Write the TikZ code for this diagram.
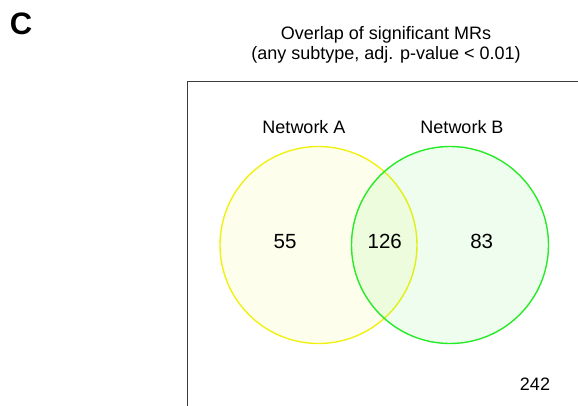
\documentclass[tikz,border=0pt]{standalone}
\usepackage{fontspec}
\setmainfont{Liberation Sans}
\definecolor{setA}{RGB}{240,240,20}
\definecolor{setB}{RGB}{40,235,40}
\definecolor{frame}{RGB}{60,60,60}
\begin{document}
\begin{tikzpicture}[x=1pt,y=-1pt,
  setcircle/.style={circle,draw,inner sep=0pt,minimum size=197pt,line width=1.4pt,fill opacity=0.08},
  heading/.style={font=\fontsize{18}{20}\selectfont,anchor=base},
  count/.style={font=\fontsize{20.5}{22}\selectfont,anchor=base}]
\clip (0,0) rectangle (578,405);
\node[font=\bfseries\fontsize{31}{31}\selectfont,anchor=base] (panel) at (21,34) {C};
\node[heading] (title) at (386,39) {Overlap of significant MRs};
\node[heading] (subtitle) at (386,59) {(any subtype, adj. p-value < 0.01)};
% universe frame
\draw[frame,line width=1.3pt] (187.3,420) |- (600,81.5);
% the two sets
\node[setcircle,draw=setA,fill=setA] (netA) at (318.5,245) {};
\node[setcircle,draw=setB,fill=setB] (netB) at (450,245) {};
\node[heading] (nameA) at (304,133) {Network A};
\node[heading] (nameB) at (462,133) {Network B};
\node[count] (onlyA) at (285,248) {55};
\node[count] (both) at (384.7,248) {126};
\node[count] (onlyB) at (481.7,248) {83};
\node[heading] (rest) at (535,390.7) {242};
\end{tikzpicture}
\end{document}
